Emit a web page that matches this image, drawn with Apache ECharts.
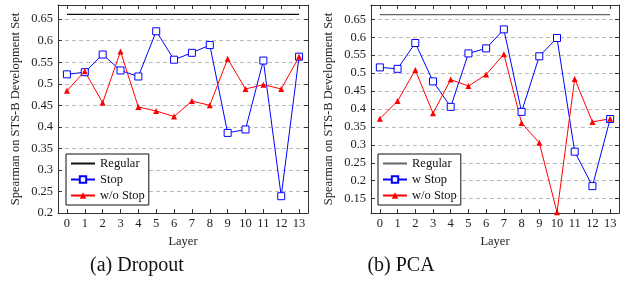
<!DOCTYPE html>
<html>
<head>
<meta charset="utf-8">
<script src="https://cdn.jsdelivr.net/npm/echarts@6/dist/echarts.min.js"></script>
</head>
<body style="margin:0">
<div id="chart" style="width:621px;height:282px"></div>
<script>
// layer labels on x
var layers = ['0','1','2','3','4','5','6','7','8','9','10','11','12','13'];

// (a) Dropout
var dropRegular = [0.661,0.661,0.661,0.661,0.661,0.661,0.661,0.661,0.661,0.661,0.661,0.661,0.661,0.661];
var dropStop    = [0.522,0.527,0.568,0.531,0.517,0.622,0.556,0.572,0.590,0.386,0.394,0.554,0.239,0.563];
var dropNoStop  = [0.484,0.529,0.456,0.575,0.446,0.437,0.424,0.460,0.450,0.558,0.488,0.498,0.488,0.563];

// (b) PCA
var pcaRegular = [0.663,0.663,0.663,0.663,0.663,0.663,0.663,0.663,0.663,0.663,0.663,0.663,0.663,0.663];
var pcaStop    = [0.516,0.512,0.584,0.477,0.406,0.555,0.569,0.622,0.392,0.547,0.598,0.281,0.185,0.372];
var pcaNoStop  = [0.373,0.422,0.509,0.388,0.482,0.464,0.496,0.553,0.361,0.306,0.112,0.484,0.364,0.373];

var font = 'Liberation Serif';
var frame = '#333';

function onStep(v) {
    var r = Math.round(v / 0.05) * 0.05;
    return Math.abs(r - v) < 1e-6 ? String(+v.toFixed(2)) : '';
}

function xAx(grid, pos) {
    var main = pos === 'bottom';
    return {
        type: 'category', gridIndex: grid, position: pos, data: layers,
        boundaryGap: true,
        axisLine: {show: true, lineStyle: {color: frame, width: 1}},
        axisTick: {show: true, inside: true, alignWithLabel: true, length: 4, lineStyle: {color: frame}},
        axisLabel: {show: main, margin: 4, color: '#222', fontFamily: font, fontSize: 12.5},
        name: main ? 'Layer' : '', nameLocation: 'middle', nameGap: 20,
        nameTextStyle: {fontFamily: font, fontSize: 12.5, color: '#222'}
    };
}

function yAx(grid, pos, min, max) {
    var main = pos === 'left';
    return {
        type: 'value', gridIndex: grid, position: pos, min: min, max: max, splitNumber: 10,
        axisLine: {show: true, lineStyle: {color: frame, width: 1}},
        axisTick: {show: true, inside: true, length: 4, lineStyle: {color: frame}},
        axisLabel: {show: main, margin: 5, color: '#222', fontFamily: font, fontSize: 12.5, formatter: onStep},
        splitLine: {show: main, lineStyle: {color: '#bbb', type: [4, 3], width: 1}},
        name: main ? 'Spearman on STS-B Development Set' : '', nameLocation: 'middle', nameGap: 36,
        nameTextStyle: {fontFamily: font, fontSize: 12.5, color: '#222'}
    };
}

function lines(xi, yi, names, reg, stop, nostop, regColor) {
    return [
        {name: names[0], type: 'line', xAxisIndex: xi, yAxisIndex: yi, data: reg, symbol: 'none',
         lineStyle: {color: regColor, width: 1.2}, itemStyle: {color: regColor}},
        {name: names[1], type: 'line', xAxisIndex: xi, yAxisIndex: yi, data: stop, symbol: 'rect', symbolSize: 7,
         lineStyle: {color: '#0000ff', width: 1}, itemStyle: {color: '#fff', borderColor: '#0000ff', borderWidth: 1}},
        {name: names[2], type: 'line', xAxisIndex: xi, yAxisIndex: yi, data: nostop, symbol: 'triangle', symbolSize: 6,
         lineStyle: {color: '#ff0000', width: 1}, itemStyle: {color: '#ff0000'}}
    ];
}

function legend(left, names, regColor) {
    return {
        orient: 'vertical', left: left, top: 154,
        data: [{name: names[0], itemStyle: {opacity: 0}, lineStyle: {color: regColor}}, names[1], names[2]],
        backgroundColor: '#fff', borderColor: '#111', borderWidth: 1, padding: [3, 4, 3, 4],
        itemWidth: 24, itemHeight: 8, itemGap: 3,
        textStyle: {fontFamily: font, fontSize: 12.5, color: '#111'}
    };
}

var chart = echarts.init(document.getElementById('chart'));
chart.setOption({
    animation: false,
    title: [
        {text: '(a) Dropout', left: 132, top: 251, textAlign: 'center',
         textStyle: {fontFamily: font, fontSize: 20, fontWeight: 'normal', color: '#111'}},
        {text: '(b) PCA', left: 396, top: 251, textAlign: 'center',
         textStyle: {fontFamily: font, fontSize: 20, fontWeight: 'normal', color: '#111'}}
    ],
    grid: [
        {left: 58, top: 5, width: 250, height: 208},
        {left: 371, top: 5, width: 248, height: 208}
    ],
    xAxis: [xAx(0, 'bottom'), xAx(0, 'top'), xAx(1, 'bottom'), xAx(1, 'top')],
    yAxis: [yAx(0, 'left', 0.2, 0.683), yAx(0, 'right', 0.2, 0.683),
            yAx(1, 'left', 0.11, 0.69), yAx(1, 'right', 0.11, 0.69)],
    legend: [
        legend(66, ['Regular', 'Stop', 'w/o Stop'], '#111'),
        legend(378, ['Regular', 'w Stop', 'w/o Stop'], '#666')
    ],
    series: [].concat(
        lines(0, 0, ['Regular', 'Stop', 'w/o Stop'], dropRegular, dropStop, dropNoStop, '#111'),
        lines(2, 2, ['Regular', 'w Stop', 'w/o Stop'], pcaRegular, pcaStop, pcaNoStop, '#666')
    )
});
</script>
</body>
</html>
